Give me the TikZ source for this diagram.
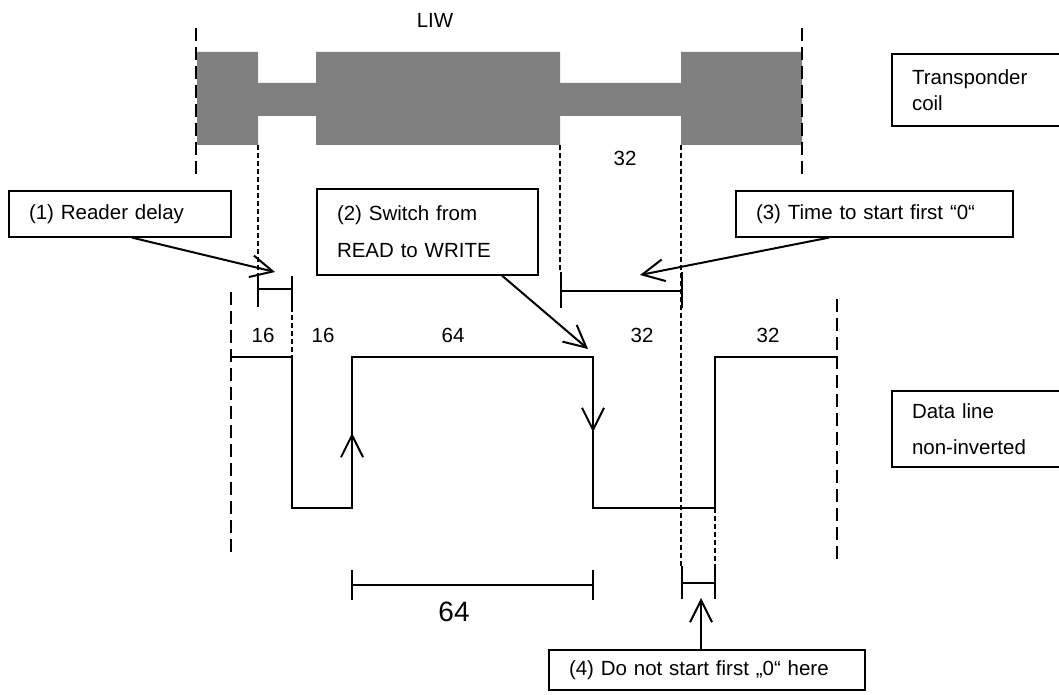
\documentclass[tikz,border=0pt]{standalone}
\usepackage{fontspec}
\setmainfont{Liberation Sans}
\usetikzlibrary{arrows.meta}
\definecolor{coilgray}{RGB}{128,128,128}
\begin{document}
\begin{tikzpicture}[x=1pt,y=-1pt,
  txt/.style={font=\fontsize{20.5}{24}\selectfont, inner sep=0pt},
  box/.style={draw, line width=1.2pt, inner xsep=20pt, inner ysep=0pt, align=left, font=\fontsize{20.5}{24}\selectfont},
  wave/.style={line width=2pt, line join=miter},
  arr/.style={line width=2pt, -{Straight Barb[length=22pt,width=22pt,line width=2pt]}},
  coilb/.style={line width=2.6pt, dash pattern=on 13pt off 6pt},
  guide/.style={line width=1.1pt, dash pattern=on 5pt off 3pt},
  brk/.style={line width=2pt}]
\useasboundingbox (0,0) rectangle (1059,695);

% transponder coil envelope
\fill[coilgray] (197,52) -- (258,52) -- (258,83) -- (316,83) -- (316,52) -- (560,52)
  -- (560,83) -- (681,83) -- (681,52) -- (802,52) -- (802,145) -- (681,145)
  -- (681,116) -- (560,116) -- (560,145) -- (316,145) -- (316,116) -- (258,116)
  -- (258,145) -- (197,145) -- cycle;
\draw[coilb] (196,28) -- (196,177);
\draw[coilb] (802,28) -- (802,177);

% thin guide lines
\draw[guide] (258,145) -- (258,276);
\draw[guide] (292,307) -- (292,357);
\draw[guide] (560,145) -- (560,272);
\draw[guide] (681,145) -- (681,566);
\draw[guide] (715,508) -- (715,566);

% data line boundaries
\draw[coilb] (231,292) -- (231,555);
\draw[coilb] (837,299) -- (837,563);

% data line waveform
\draw[wave] (231,357) -- (292,357) -- (292,508) -- (352,508) -- (352,357) -- (593,357)
  -- (593,508) -- (715,508) -- (715,357) -- (837,357);
\draw[arr] (352,508) -- (352,433);
\draw[arr] (593,357) -- (593,432);

% brackets
\draw[brk] (258,276) -- (258,307) (292,276) -- (292,307) (258,289) -- (292,289);
\draw[brk] (561,272) -- (561,308) (682,272) -- (682,308) (561,291) -- (682,291);
\draw[brk] (682,566) -- (682,599) (715,566) -- (715,599) (682,583) -- (715,583);
\draw[brk] (352,570) -- (352,600) (593,570) -- (593,600) (352,585) -- (593,585);

% labels
\node[txt] (liw) at (435,20) {LIW};
\node[txt] (c32) at (625,158) {32};
\node[txt] (d16a) at (263,335) {16};
\node[txt] (d16b) at (323,335) {16};
\node[txt] (d64) at (453,335) {64};
\node[txt] (d32a) at (642,335) {32};
\node[txt] (d32b) at (768,335) {32};
\node[font=\fontsize{28}{32}\selectfont, inner sep=0pt] (b64) at (454,612) {64};

% boxes
\node[box, text width=182pt, minimum height=46pt] (b1) at (120,214) {(1) Reader delay};
\node[box, text width=181pt, minimum height=86pt, font=\fontsize{20.5}{37}\selectfont] (b2) at (427.5,232) {(2) Switch from\\READ to WRITE};
\node[box, text width=237pt, minimum height=46pt] (b3) at (874.5,214) {(3) Time to start first “0“};
\node[box, text width=276pt, minimum height=40pt] (b4) at (707,670) {(4) Do not start first „0“ here};
\node[box, text width=143pt, minimum height=72pt, font=\fontsize{20.5}{26}\selectfont] (b5) at (983.5,90) {Transponder\\coil};
\node[box, text width=143pt, minimum height=76pt, font=\fontsize{20.5}{36}\selectfont] (b6) at (983.5,429) {Data line\\non-inverted};

% callout arrows
\coordinate (t1) at (275,272);
\coordinate (t2) at (588,349);
\coordinate (t3) at (640,275);
\coordinate (t4) at (701,598);
\draw[arr] ([xshift=12pt]b1.south) -- (t1);
\draw[arr] ([xshift=74.5pt]b2.south) -- (t2);
\draw[arr] ([xshift=-45.5pt]b3.south) -- (t3);
\draw[arr] ([xshift=-6pt]b4.north) -- (t4);
\end{tikzpicture}
\end{document}
